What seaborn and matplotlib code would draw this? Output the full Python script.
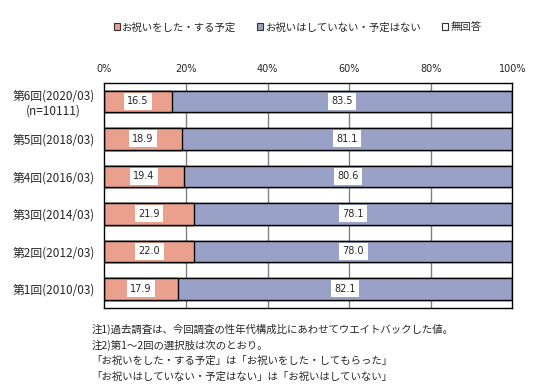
import pandas as pd
import seaborn as sns
from matplotlib import pyplot as plt
from matplotlib.patches import Patch

# データ
rounds = ["第6回(2020/03)\n(n=10111)", "第5回(2018/03)", "第4回(2016/03)",
          "第3回(2014/03)", "第2回(2012/03)", "第1回(2010/03)"]
celebrated = [16.5, 18.9, 19.4, 21.9, 22.0, 17.9]
not_celebrated = [83.5, 81.1, 80.6, 78.1, 78.0, 82.1]
no_answer = [0, 0, 0, 0, 0, 0]
series_names = ["お祝いをした・する予定", "お祝いはしていない・予定はない", "無回答"]
ticks = [0, 20, 40, 60, 80, 100]
notes = ["注1)過去調査は、今回調査の性年代構成比にあわせてウエイトバックした値。",
         "注2)第1～2回の選択肢は次のとおり。",
         "「お祝いをした・する予定」は「お祝いをした・してもらった」",
         "「お祝いはしていない・予定はない」は「お祝いはしていない」"]

colors = ["#EAA08C", "#99A1C7", "#FFFFFF"]

sns.set_style("white")
plt.rcParams['font.family'] = ['Noto Sans CJK JP', 'DejaVu Sans']

df = pd.DataFrame({"round": rounds, "a": celebrated, "b": not_celebrated, "c": no_answer})
df["ab"] = df["a"] + df["b"]
df["abc"] = df["ab"] + df["c"]

fig = plt.figure(figsize=(5.43, 3.9), dpi=100)
ax = fig.add_axes([0.1924, 0.211, 0.7514, 0.577])

# 積み上げ（後ろから描く）
for col, c in [("abc", colors[2]), ("ab", colors[1]), ("a", colors[0])]:
    sns.barplot(data=df, x=col, y="round", color=c, width=0.58, saturation=1,
                edgecolor="black", linewidth=1, ax=ax, zorder=2)

# 値ラベル
for i, (a, b) in enumerate(zip(celebrated, not_celebrated)):
    for left, v in [(0, a), (a, b)]:
        ax.text(left + v / 2, i, f"{v:.1f}", ha="center", va="center", fontsize=7,
                family="DejaVu Sans", zorder=5,
                bbox=dict(facecolor="white", edgecolor="none", pad=2.5))

ax.set_xlim(0, 100)
ax.set_ylim(5.5, -0.5)
ax.set_xticks(ticks)
ax.set_xticklabels([f"{t}%" for t in ticks], fontsize=7, family="DejaVu Sans")
ax.xaxis.tick_top()
ax.tick_params(axis="x", length=0, pad=6)
ax.tick_params(axis="y", length=0, pad=7, labelsize=8.5)
for lbl in ax.get_yticklabels():
    lbl.set_multialignment("center")
ax.set_xlabel("")
ax.set_ylabel("")
for t in [20, 40, 60, 80]:
    ax.axvline(t, color="#808080", lw=1, zorder=1)
for s in ax.spines.values():
    s.set_color("black")
    s.set_linewidth(1)
    s.set_visible(True)

handles = [Patch(facecolor=c, edgecolor="#333333", linewidth=0.8) for c in colors]
fig.legend(handles, series_names, loc="center", bbox_to_anchor=(0.548, 0.93), ncol=3,
           frameon=False, fontsize=7.5, handlelength=0.6, handleheight=0.6,
           handletextpad=0.2, columnspacing=2.0)

for k, line in enumerate(notes):
    fig.text(0.168, 1 - (329 + 16 * k) / 390, line, fontsize=7.5, va="center", ha="left")

fig.savefig("out.png", dpi=100)
